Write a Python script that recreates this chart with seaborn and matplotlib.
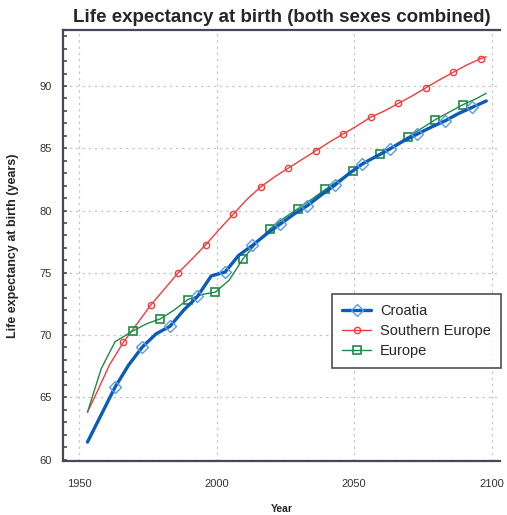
import matplotlib
matplotlib.use("Agg")
import matplotlib.pyplot as plt
import seaborn as sns
import numpy as np
import pandas as pd
from matplotlib.ticker import MultipleLocator

# ---- data ----
croatia_years = [1953, 1958, 1963, 1968, 1973, 1978, 1983, 1988, 1993, 1998,
                 2003, 2008, 2013, 2018, 2023, 2028, 2033, 2038, 2043, 2048,
                 2053, 2058, 2063, 2068, 2073, 2078, 2083, 2088, 2093, 2098]
croatia_vals = [61.4, 63.6, 65.8, 67.6, 69.05, 70.1, 70.7, 72.0, 73.1, 74.75,
                75.05, 76.4, 77.2, 78.1, 78.9, 79.7, 80.4, 81.25, 82.05, 82.95,
                83.75, 84.35, 84.95, 85.6, 86.15, 86.7, 87.2, 87.8, 88.3, 88.8]

seu_years = [1953, 1956, 1961, 1966, 1971, 1976, 1981, 1986, 1991, 1996,
             2001, 2006, 2011, 2016, 2021, 2026, 2031, 2036, 2041, 2046,
             2051, 2056, 2061, 2066, 2071, 2076, 2081, 2086, 2091, 2096, 2098]
seu_vals = [63.8, 65.2, 67.6, 69.4, 70.9, 72.4, 73.7, 75.0, 76.1, 77.25,
            78.5, 79.7, 80.9, 81.9, 82.7, 83.4, 84.1, 84.8, 85.5, 86.15,
            86.8, 87.5, 88.0, 88.6, 89.2, 89.85, 90.5, 91.1, 91.7, 92.2, 92.35]

eu_years = [1953, 1958, 1963, 1969.5, 1974.5, 1979.5, 1984.5, 1989.5, 1994.5,
            1999.5, 2004.5, 2009.5, 2014.5, 2019.5, 2024.5, 2029.5, 2034.5,
            2039.5, 2044.5, 2049.5, 2054.5, 2059.5, 2064.5, 2069.5, 2074.5,
            2079.5, 2084.5, 2089.5, 2094.5, 2098]
eu_vals = [63.8, 67.3, 69.45, 70.33, 70.9, 71.3, 72.0, 72.85, 73.25,
           73.45, 74.4, 76.1, 77.4, 78.55, 79.4, 80.15, 80.9,
           81.7, 82.45, 83.2, 83.9, 84.55, 85.2, 85.9, 86.6,
           87.3, 87.9, 88.5, 89.0, 89.42]

series_names = ["Croatia", "Southern Europe", "Europe"]
x_ticks = [1950, 2000, 2050, 2100]
y_ticks = [60, 65, 70, 75, 80, 85, 90]

# ---- style ----
sns.set_style("white")
plt.rcParams['font.family'] = ['Liberation Sans', 'DejaVu Sans']

fig = plt.figure(figsize=(5.07, 5.15), dpi=100)
ax = fig.add_axes([63/507, 1-461/515, (500-63)/507, (461-30)/515])

df_c = pd.DataFrame({"Year": croatia_years, "LE": croatia_vals})
df_s = pd.DataFrame({"Year": seu_years, "LE": seu_vals})
df_e = pd.DataFrame({"Year": eu_years, "LE": eu_vals})

sns.lineplot(data=df_s, x="Year", y="LE", ax=ax, color="#f03c3c", linewidth=1.0,
             marker="o", markersize=4.5, markerfacecolor="none",
             markeredgecolor="#f03c3c", markeredgewidth=1.0,
             markevery=slice(3, None, 2), label=series_names[1], zorder=3)
sns.lineplot(data=df_e, x="Year", y="LE", ax=ax, color="#1e8a45", linewidth=1.0,
             marker="s", markersize=6, markerfacecolor="none",
             markeredgecolor="#1e8a45", markeredgewidth=1.2,
             markevery=slice(3, 28, 2), label=series_names[2], zorder=4)
sns.lineplot(data=df_c, x="Year", y="LE", ax=ax, color="#0b5bb8", linewidth=2.4,
             marker="D", markersize=6, markerfacecolor="none",
             markeredgecolor="#5b9be0", markeredgewidth=1.0,
             markevery=slice(2, 29, 2), label=series_names[0], zorder=5)

ax.set_xlim(1944.1, 2103)
ax.set_ylim(59.88, 94.5)
ax.set_xticks(x_ticks)
ax.set_yticks(y_ticks)
ax.yaxis.set_minor_locator(MultipleLocator(1))

ax.grid(True, which="major", linestyle=(0, (2, 3)), color="#c8c8c8", linewidth=0.9)
ax.set_axisbelow(True)

for side in ["left", "bottom", "top"]:
    ax.spines[side].set_color("#444a55")
    ax.spines[side].set_linewidth(1.6)
ax.spines["right"].set_visible(False)

ax.tick_params(axis="x", which="major", direction="out", length=7, width=1.3,
               color="#444a55", labelsize=8, labelcolor="#333333", pad=6)
ax.tick_params(axis="y", which="major", direction="in", length=3, width=1.2,
               color="#444a55", labelsize=8, labelcolor="#333333", pad=8, left=True)
ax.tick_params(axis="y", which="minor", direction="in", length=3, width=1.2,
               color="#444a55", left=True)

ax.set_xlabel("Year", fontsize=7.5, fontweight="bold", labelpad=11)
ax.set_ylabel("Life expectancy at birth (years)", fontsize=9, fontweight="bold", labelpad=15)
ax.set_title("Life expectancy at birth (both sexes combined)", fontsize=13.5,
             fontweight="bold", pad=6)

h, l = ax.get_legend_handles_labels()
order = [l.index(n) for n in series_names]
leg = ax.legend([h[i] for i in order], [l[i] for i in order],
                loc="upper right", bbox_to_anchor=(1.003, 0.3875), borderaxespad=0,
                fontsize=10.5, frameon=True, fancybox=False, edgecolor="#222222",
                handlelength=2.0, handletextpad=0.6, labelspacing=0.4,
                borderpad=0.7)
leg.get_frame().set_linewidth(1.2)

fig.savefig("out.png", dpi=100)
